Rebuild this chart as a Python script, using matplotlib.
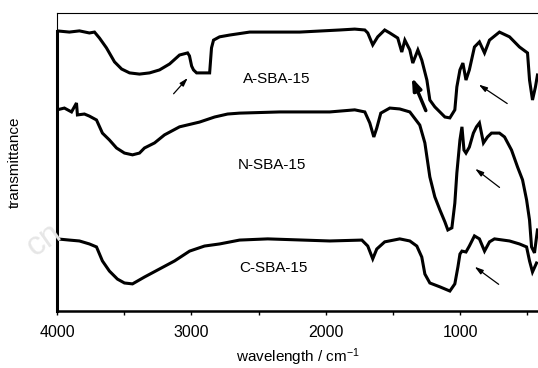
import numpy as np
import matplotlib
matplotlib.use("Agg")
import matplotlib.pyplot as plt

plt.rcParams['font.family'] = ['Liberation Sans', 'DejaVu Sans']
plt.rcParams['mathtext.fontset'] = 'custom'
plt.rcParams['mathtext.rm'] = 'Liberation Sans'
plt.rcParams['mathtext.it'] = 'Liberation Sans:italic'

# wavenumber (cm-1) / transmittance (a.u.)
a_wn = [4000, 3908, 3833, 3759, 3721, 3684, 3632, 3572, 3519, 3460, 3386, 3311,
        3237, 3162, 3088, 3028, 3014, 2998, 2984, 2961, 2902, 2864, 2850, 2835,
        2790, 2715, 2566, 2194, 1896, 1784, 1709, 1687, 1650, 1613, 1561, 1523,
        1464, 1434, 1411, 1374, 1352, 1314, 1285, 1247, 1225, 1188, 1113, 1076,
        1039, 1024, 1001, 979, 956, 931, 893, 856, 818, 781, 707, 632, 558, 498,
        483, 461, 439, 424]
a_t = [94.0, 93.6, 94.0, 93.3, 93.6, 91.6, 88.3, 83.6, 81.2, 79.9, 79.5, 79.9,
       80.9, 82.9, 85.9, 86.6, 85.6, 82.2, 80.9, 79.9, 79.9, 79.9, 88.3, 90.9,
       92.0, 92.6, 93.6, 93.6, 94.3, 94.6, 94.3, 93.3, 89.3, 92.0, 94.3, 93.3,
       91.6, 86.9, 90.9, 87.6, 83.2, 87.6, 84.2, 77.5, 70.8, 68.5, 65.1, 64.8,
       67.5, 75.2, 80.9, 83.2, 77.5, 80.9, 88.6, 90.3, 86.6, 90.9, 93.6, 92.0,
       88.6, 86.6, 77.5, 70.8, 75.2, 79.2]

n_wn = [4000, 3945, 3892, 3855, 3848, 3796, 3759, 3706, 3662, 3610, 3557, 3498,
        3438, 3386, 3349, 3274, 3200, 3088, 2939, 2827, 2730, 2641, 2343, 1970,
        1784, 1709, 1672, 1642, 1620, 1590, 1523, 1449, 1374, 1300, 1262, 1225,
        1188, 1150, 1113, 1091, 1061, 1039, 1024, 1001, 986, 971, 956, 931, 901,
        878, 856, 826, 796, 766, 707, 669, 617, 572, 535, 505, 483, 468, 446,
        431, 424]
n_t = [67.5, 68.1, 66.8, 69.8, 65.8, 66.1, 65.4, 64.1, 59.7, 57.4, 54.7, 53.0,
       52.4, 53.0, 54.7, 56.4, 59.1, 61.8, 63.4, 65.1, 66.1, 66.4, 66.8, 66.8,
       67.5, 66.8, 63.1, 58.4, 61.4, 66.4, 68.1, 67.8, 66.8, 62.4, 56.4, 45.0,
       38.3, 33.9, 29.9, 27.2, 27.9, 36.2, 46.3, 57.4, 61.8, 54.0, 53.0, 55.0,
       59.7, 61.8, 63.1, 56.4, 58.4, 59.7, 59.7, 58.4, 54.0, 48.3, 44.0, 37.3,
       30.5, 21.5, 19.5, 24.8, 27.2]

c_wn = [4000, 3908, 3833, 3759, 3706, 3662, 3610, 3550, 3498, 3438, 3349, 3237,
        3125, 3013, 2902, 2790, 2641, 2432, 1970, 1731, 1687, 1650, 1620, 1561,
        1449, 1374, 1322, 1285, 1262, 1225, 1150, 1076, 1039, 1016, 1001, 986,
        956, 931, 893, 856, 818, 781, 744, 632, 558, 505, 483, 461, 431]
c_t = [24.2, 23.8, 23.5, 22.5, 21.5, 16.8, 13.4, 10.7, 9.4, 9.1, 11.4, 14.1,
       16.8, 20.1, 21.8, 22.5, 23.8, 24.2, 23.5, 23.8, 21.8, 17.5, 20.8, 23.2,
       24.2, 23.5, 21.8, 18.1, 12.4, 9.4, 8.1, 6.7, 9.1, 14.8, 19.1, 20.1,
       19.8, 21.8, 25.2, 24.2, 20.1, 23.2, 24.2, 23.5, 22.5, 21.5, 16.8, 13.1,
       16.1]

names = ['A-SBA-15', 'N-SBA-15', 'C-SBA-15']
label_pos = [(2363, 77.9), (2401, 49.0), (2386, 14.4)]
major_ticks = [4000, 3000, 2000, 1000]
minor_ticks = [3500, 2500, 1500, 500]

fig = plt.figure(figsize=(5.38, 3.68), dpi=100)

# faint watermark fragment, behind everything
fig.text(44 / 538, 1 - 240 / 368, 'cn', rotation=35, fontsize=24,
         color='#e6e6e6', ha='center', va='center', zorder=0)

ax = fig.add_axes([57 / 538, 57 / 368, 481 / 538, 298 / 368])
ax.patch.set_alpha(0)

for wn, t in [(a_wn, a_t), (n_wn, n_t), (c_wn, c_t)]:
    ax.plot(wn, t, color='black', lw=2.2, solid_joinstyle='miter')

for name, (x, y) in zip(names, label_pos):
    ax.text(x, y, name, fontsize=11, ha='center', va='center')

# arrows
thin = dict(arrowstyle='-|>,head_length=0.5,head_width=0.15', lw=0.9, color='black')
ax.annotate('', xy=(3013, 78.9), xytext=(3146, 72.2), arrowprops=thin)
ax.annotate('', xy=(878, 76.5), xytext=(632, 69.1), arrowprops=thin)
ax.annotate('', xy=(904, 48.3), xytext=(690, 40.9), arrowprops=thin)
ax.annotate('', xy=(908, 15.4), xytext=(696, 8.4), arrowprops=thin)
ax.annotate('', xy=(1367, 79.2), xytext=(1247, 66.4),
            arrowprops=dict(arrowstyle='-|>,head_length=0.7,head_width=0.25',
                            lw=2.5, color='black'))

ax.set_xlim(4000, 420)
ax.set_ylim(0, 100)
ax.set_xticks(major_ticks)
ax.set_xticks(minor_ticks, minor=True)
ax.set_yticks([])
ax.tick_params(axis='x', which='both', direction='out', length=3, width=1,
               pad=7, labelsize=11.5)

ax.spines['right'].set_visible(False)
ax.spines['top'].set_linewidth(0.8)
ax.spines['bottom'].set_linewidth(1.8)
ax.spines['left'].set_linewidth(2.2)
ax.spines['left'].set_bounds(0, 94)
ax.axvline(4000, ymin=0.94, ymax=1, lw=0.8, color='black', clip_on=False)

ax.set_xlabel('wavelength / cm$^{-1}$', fontsize=11, labelpad=5)
fig.text(15 / 538, 1 - 162 / 368, 'transmittance', rotation=90,
         ha='center', va='center', fontsize=11)

fig.savefig('out.png', dpi=100)
